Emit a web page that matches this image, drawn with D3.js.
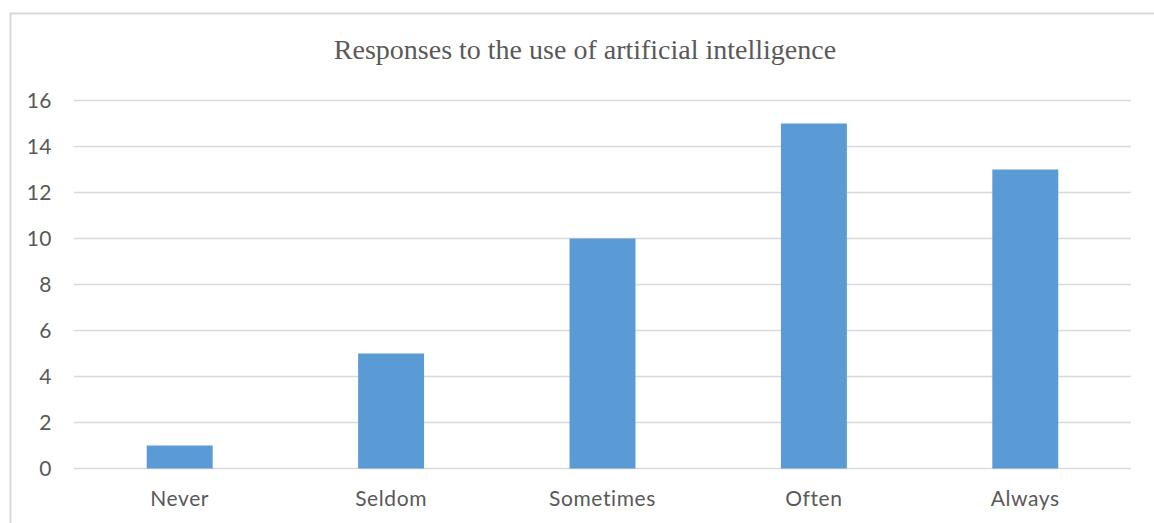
<!DOCTYPE html>
<html><head><meta charset="utf-8">
<script src="https://cdn.jsdelivr.net/npm/d3@7"></script>
<style>body{margin:0;background:#fff}</style>
</head><body>
<svg id="c" width="1154" height="523"></svg>
<script>
const categories = ["Never", "Seldom", "Sometimes", "Often", "Always"];
const values = [1, 5, 10, 15, 13];
const yTicks = [0, 2, 4, 6, 8, 10, 12, 14, 16];
const title = "Responses to the use of artificial intelligence";

const svg = d3.select("#c");
// chart border
svg.append("path").attr("d","M10.5,523 V13.5 H1154")
  .attr("fill","none").attr("stroke","#D9D9D9").attr("stroke-width",2);

const x = d3.scaleBand().domain(categories).range([74, 1131]).paddingInner(0.688).paddingOuter(0.344);
const y = d3.scaleLinear().domain([0, 16]).range([468.5, 100.5]);

const grid = svg.append("g");
grid.selectAll("line").data(yTicks).enter().append("line")
  .attr("x1",74).attr("x2",1131)
  .attr("y1",d=>y(d)).attr("y2",d=>y(d))
  .attr("stroke","#D9D9D9").attr("stroke-width",1.3);

svg.append("g").selectAll("text").data(yTicks).enter().append("text")
  .attr("x",52).attr("y",d=>y(d)).attr("dy","0.36em")
  .attr("text-anchor","end")
  .attr("font-family","Lato, 'Open Sans', sans-serif").attr("font-size",21)
  .attr("letter-spacing",0.5)
  .attr("fill","#595959").text(d=>d);

svg.append("g").selectAll("rect").data(values).enter().append("rect")
  .attr("x",(d,i)=>x(categories[i])).attr("width",x.bandwidth())
  .attr("y",d=>y(d)).attr("height",d=>y(0)-y(d))
  .attr("fill","#5B9BD5");

svg.append("g").selectAll("text").data(categories).enter().append("text")
  .attr("x",d=>x(d)+x.bandwidth()/2).attr("y",506)
  .attr("text-anchor","middle")
  .attr("font-family","Lato, 'Open Sans', sans-serif").attr("font-size",21)
  .attr("letter-spacing",0.6)
  .attr("fill","#595959").text(d=>d);

svg.append("text").attr("x",585).attr("y",59).attr("text-anchor","middle")
  .attr("font-family","'Liberation Serif', serif").attr("font-size",28)
  .attr("fill","#595959").text(title);
</script>
</body></html>
